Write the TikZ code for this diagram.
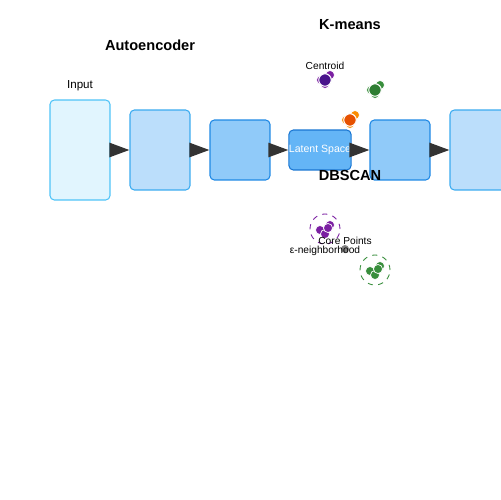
\documentclass[tikz,border=0pt]{standalone}
\usepackage{fontspec}
\setmainfont{Liberation Sans}
\usetikzlibrary{arrows.meta}
\definecolor{inputfill}{HTML}{E1F5FE}
\definecolor{inputline}{HTML}{4FC3F7}
\definecolor{lightfill}{HTML}{BBDEFB}
\definecolor{midfill}{HTML}{90CAF9}
\definecolor{latentfill}{HTML}{64B5F6}
\definecolor{boxline}{HTML}{1E88E5}
\definecolor{latentline}{HTML}{1976D2}
\definecolor{cpurple}{HTML}{7B1FA2}
\definecolor{dpurple}{HTML}{4A148C}
\definecolor{cgreen}{HTML}{388E3C}
\definecolor{dgreen}{HTML}{2E7D32}
\definecolor{corange}{HTML}{FB8C00}
\definecolor{dorange}{HTML}{E65100}
\definecolor{arrgray}{HTML}{333333}
\begin{document}
\begin{tikzpicture}[
    x=0.02cm, y=-0.02cm,
    layer/.style={draw, rounded corners=2.5pt, line width=0.6pt, minimum width=1.2cm,
                  inner sep=0pt},
    title/.style={font=\fontsize{8.3}{9}\selectfont\bfseries},
    small/.style={font=\fontsize{5.8}{7}\selectfont, inner sep=0pt},
    arr/.style={-{Triangle[length=0.4cm, width=0.28cm]}, line width=1.4pt, draw=arrgray, fill=arrgray},
    pt/.style={circle, fill=#1, draw=white, line width=0.4pt, inner sep=0pt, minimum size=0.18cm},
    cent/.style={circle, fill=#1, draw=white, line width=0.6pt, inner sep=0pt, minimum size=0.25cm},
    eps/.style={circle, draw=#1, dashed, line width=0.5pt, inner sep=0pt, minimum size=0.6cm}
  ]
    \useasboundingbox (0,0) rectangle (500,500);

    % network layers
    \node[layer, fill=inputfill, draw=inputline, minimum height=2.0cm]  (in)     at (80,150)  {};
    \node[layer, fill=lightfill, draw=inputline!60!boxline, minimum height=1.6cm] (enc1)   at (160,150) {};
    \node[layer, fill=midfill, draw=boxline, minimum height=1.2cm]     (enc2)   at (240,150) {};
    \node[layer, fill=latentfill, draw=latentline, minimum height=0.8cm,
          font=\fontsize{6}{7}\selectfont, text=white] (latent) at (320,150) {Latent Space};
    \node[layer, fill=midfill, draw=boxline, minimum height=1.2cm]     (dec1)   at (400,150) {};
    \node[layer, fill=lightfill, draw=inputline!60!boxline, minimum height=1.6cm] (dec2)   at (480,150) {};

    \draw[arr] (in)     -- (enc1);
    \draw[arr] (enc1)   -- (enc2);
    \draw[arr] (enc2)   -- (latent);
    \draw[arr] (latent) -- (dec1);
    \draw[arr] (dec1)   -- (dec2);

    % titles
    \node[title] (ae)     at (150,45)  {Autoencoder};
    \node[title] (km)     at (350,25)  {K-means};
    \node[title] (db)     at (350,175) {DBSCAN};
    \node[font=\fontsize{6.6}{8}\selectfont] (inlbl) at (80,86) {Input};

    % k-means clusters
    \foreach \cx/\cy/\pc/\cc in {325/80/cpurple/dpurple, 375/90/cgreen/dgreen, 350/120/corange/dorange}{
      \node[pt=\pc] at (\cx+5,\cy-5) {};
      \node[pt=\pc] at (\cx-4,\cy) {};
      \node[pt=\pc] at (\cx,\cy+4) {};
      \node[cent=\cc] at (\cx,\cy) {};
    }
    \node[small] (centlbl) at (325,66) {Centroid};

    % dbscan clusters
    \node[eps=cpurple] (nbp) at (325,229) {};
    \node[eps=cgreen]  (nbg) at (375,270) {};
    \foreach \dx/\dy in {-5/1, 0/5, 5/-4, 3/-1}{
      \node[pt=cpurple] at (325+\dx,229+\dy) {};
      \node[pt=cgreen]  at (375+\dx,270+\dy) {};
    }
    \node[pt=gray] (noise) at (345,249) {};
    \node[small] (corelbl) at (345,241) {Core Points};
    \node[small] (epslbl)  at (325,251) {ε-neighborhood};
  \end{tikzpicture}
\end{document}
